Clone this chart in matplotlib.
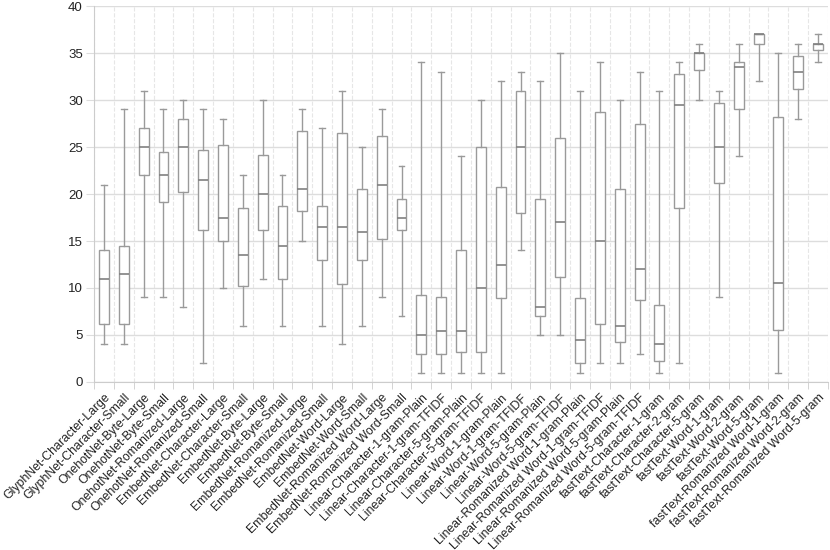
import numpy as np
import matplotlib.pyplot as plt

plt.rcParams['font.family'] = ['Liberation Sans', 'DejaVu Sans']

labels = [
    "GlyphNet-Character-Large", "GlyphNet-Character-Small",
    "OnehotNet-Byte-Large", "OnehotNet-Byte-Small",
    "OnehotNet-Romanized-Large", "OnehotNet-Romanized-Small",
    "EmbedNet-Character-Large", "EmbedNet-Character-Small",
    "EmbedNet-Byte-Large", "EmbedNet-Byte-Small",
    "EmbedNet-Romanized-Large", "EmbedNet-Romanized-Small",
    "EmbedNet-Word-Large", "EmbedNet-Word-Small",
    "EmbedNet-Romanized Word-Large", "EmbedNet-Romanized Word-Small",
    "Linear-Character-1-gram-Plain", "Linear-Character-1-gram-TFIDF",
    "Linear-Character-5-gram-Plain", "Linear-Character-5-gram-TFIDF",
    "Linear-Word-1-gram-Plain", "Linear-Word-1-gram-TFIDF",
    "Linear-Word-5-gram-Plain", "Linear-Word-5-gram-TFIDF",
    "Linear-Romanized Word-1-gram-Plain", "Linear-Romanized Word-1-gram-TFIDF",
    "Linear-Romanized Word-5-gram-Plain", "Linear-Romanized Word-5-gram-TFIDF",
    "fastText-Character-1-gram", "fastText-Character-2-gram",
    "fastText-Character-5-gram", "fastText-Word-1-gram",
    "fastText-Word-2-gram", "fastText-Word-5-gram",
    "fastText-Romanized Word-1-gram", "fastText-Romanized Word-2-gram",
    "fastText-Romanized Word-5-gram",
]

# five-number summaries
whislo = [4, 4, 9, 9, 8, 2, 10, 6, 11, 6, 15, 6, 4, 6, 9, 7,
          1, 1, 1, 1, 1, 14, 5, 5, 1, 2, 2, 3, 1, 2, 30, 9, 24, 32, 1, 28, 34]
q1 = [6.2, 6.2, 22, 19.2, 20.2, 16.2, 15, 10.2, 16.2, 11, 18.2, 13, 10.4, 13, 15.2, 16.2,
      3, 3, 3.2, 3.2, 8.9, 18, 7, 11.2, 2, 6.2, 4.3, 8.7, 2.2, 18.5, 33.2, 21.2, 29, 36, 5.5, 31.2, 35.3]
med = [11, 11.5, 25, 22, 25, 21.5, 17.5, 13.5, 20, 14.5, 20.5, 16.5, 16.5, 16, 21, 17.5,
       5, 5.4, 5.4, 10, 12.4, 25, 8, 17, 4.5, 15, 6, 12, 4, 29.5, 35, 25, 33.5, 37, 10.5, 33, 36]
q3 = [14, 14.5, 27, 24.5, 28, 24.7, 25.2, 18.5, 24.2, 18.7, 26.7, 18.7, 26.5, 20.5, 26.2, 19.5,
      9.3, 9, 14, 25, 20.7, 31, 19.5, 26, 8.9, 28.7, 20.5, 27.5, 8.2, 32.8, 35, 29.7, 34, 37, 28.2, 34.7, 36]
whishi = [21, 29, 31, 29, 30, 29, 28, 22, 30, 22, 29, 27, 31, 25, 29, 23,
          34, 33, 24, 30, 32, 33, 32, 35, 31, 34, 30, 33, 31, 34, 36, 31, 36, 37, 35, 36, 37]

stats = [dict(label=l, whislo=a, q1=b, med=c, q3=d, whishi=e)
         for l, a, b, c, d, e in zip(labels, whislo, q1, med, q3, whishi)]

fig = plt.figure(figsize=(8.3, 5.5), dpi=100)
ax = fig.add_axes([0.1133, 0.3055, 0.8843, 0.6835])

line_col = '#9a9a9a'
ax.bxp(stats, positions=np.arange(1, len(labels) + 1), widths=0.5,
       showfliers=False, patch_artist=True,
       boxprops=dict(facecolor='white', edgecolor=line_col, linewidth=1),
       whiskerprops=dict(color=line_col, linewidth=1),
       capprops=dict(color=line_col, linewidth=1),
       medianprops=dict(color='#808080', linewidth=1.2),
       capwidths=0.3)

ax.set_xlim(0.5, len(labels) + 0.5)
ax.set_ylim(0, 40)
ax.set_yticks(np.arange(0, 41, 5))
ax.set_xticks(np.arange(1, len(labels) + 1))
ax.set_xticklabels(labels, rotation=45, ha='right', rotation_mode='anchor',
                   fontsize=8.8, color='#222222')
ax.set_xticks(np.arange(0.5, len(labels) + 1), minor=True)
ax.tick_params(axis='x', which='major', length=0, pad=7)
ax.tick_params(axis='x', which='minor', length=5, color='#cccccc')
ax.tick_params(axis='y', length=6, pad=2, color='#dddddd', labelsize=9.5, labelcolor='#222222')

ax.grid(axis='y', color='#dddddd', linewidth=1)
ax.grid(axis='x', which='minor', color='#e6e6e6', linestyle='--', linewidth=0.8)
ax.set_axisbelow(True)
for s in ['top', 'right']:
    ax.spines[s].set_visible(False)
for s in ['left', 'bottom']:
    ax.spines[s].set_color('#cccccc')

fig.savefig('out.png', dpi=100)
